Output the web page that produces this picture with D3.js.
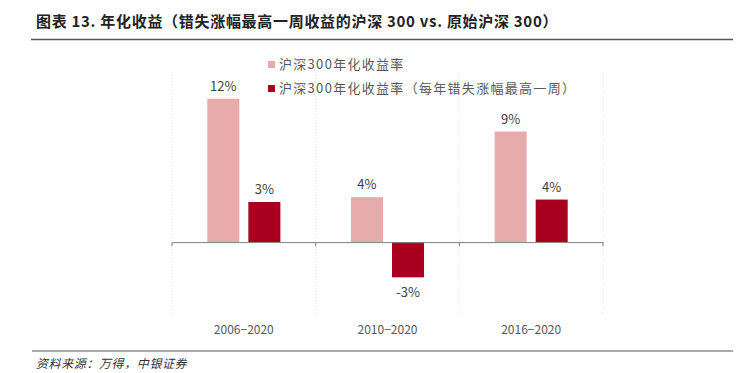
<!DOCTYPE html>
<html>
<head>
<meta charset="utf-8">
<script src="https://cdn.jsdelivr.net/npm/d3@7"></script>
<style>
  body { margin: 0; background: #fff; }
  text { font-family: "Noto Sans CJK SC", "Noto Sans", sans-serif; }
</style>
</head>
<body>
<div id="chart"></div>
<script>
"use strict";

const categories = ["2006-2020", "2010-2020", "2016-2020"];
const seriesNames = ["沪深300年化收益率", "沪深300年化收益率（每年错失涨幅最高一周）"];
const baseReturns = [11.8, 3.7, 9.1];
const missedReturns = [3.3, -2.9, 3.5];
const colors = ["#E8ABAB", "#A8001E"];

const width = 747;
const height = 373;

const svg = d3.select("#chart")
  .append("svg")
  .attr("width", width)
  .attr("height", height)
;

// title + rule
svg.append("text")
  .attr("x", 36)
  .attr("y", 27)
  .attr("font-size", 15)
  .attr("font-weight", "bold")
  .attr("letter-spacing", 0.7)
  .attr("fill", "#222")
  .text("图表 13. 年化收益（错失涨幅最高一周收益的沪深 300 vs. 原始沪深 300）")
;
svg.append("line")
  .attr("x1", 31).attr("x2", 733)
  .attr("y1", 39.5).attr("y2", 39.5)
  .attr("stroke", "#555").attr("stroke-width", 1.5)
;

const x0 = d3.scaleBand()
  .domain(categories)
  .range([172, 603])
;
const x1 = d3.scaleBand()
  .domain(seriesNames)
  .range([0, x0.bandwidth()])
  .paddingInner(0.22)
  .paddingOuter(0.86)
;
const y = d3.scaleLinear()
  .domain([-6, 14])
  .range([315, 72])
;

// dotted separators
svg.append("g")
  .selectAll("line")
  .data(categories.concat(["end"]))
  .enter()
  .append("line")
  .attr("x1", (d, i) => 172 + i * x0.bandwidth())
  .attr("x2", (d, i) => 172 + i * x0.bandwidth())
  .attr("y1", y(14))
  .attr("y2", y(-6))
  .attr("stroke", "#e2e2e2")
  .attr("stroke-dasharray", "1,2")
;

const rows = categories.map((c, i) => ({ cat: c, values: [baseReturns[i], missedReturns[i]] }));

const groups = svg.append("g")
  .selectAll("g")
  .data(rows)
  .enter()
  .append("g")
  .attr("transform", d => `translate(${x0(d.cat)},0)`)
;

groups.selectAll("rect")
  .data(d => d.values.map((v, j) => ({ name: seriesNames[j], v: v, j: j })))
  .enter()
  .append("rect")
  .attr("x", d => x1(d.name))
  .attr("width", x1.bandwidth())
  .attr("y", d => y(Math.max(0, d.v)))
  .attr("height", d => Math.abs(y(d.v) - y(0)))
  .attr("fill", d => colors[d.j])
;

groups.selectAll("text")
  .data(d => d.values.map((v, j) => ({ name: seriesNames[j], v: v })))
  .enter()
  .append("text")
  .attr("x", d => x1(d.name) + x1.bandwidth() / 2)
  .attr("y", d => d.v >= 0 ? y(d.v) - 8 : y(d.v) + 20)
  .attr("text-anchor", "middle")
  .attr("font-size", 13)
  .attr("fill", "#404040")
  .text(d => Math.round(d.v) + "%")
;

// zero axis
const xAxis = d3.axisBottom(x0)
  .tickValues([])
  .tickSizeOuter(0)
;
svg.append("g")
  .attr("transform", `translate(0, ${y(0)})`)
  .call(xAxis)
  .call(g => g.select(".domain").attr("stroke", "#808080"))
;
svg.append("g")
  .selectAll("line")
  .data(categories.concat(["end"]))
  .enter()
  .append("line")
  .attr("x1", (d, i) => 172 + i * x0.bandwidth())
  .attr("x2", (d, i) => 172 + i * x0.bandwidth())
  .attr("y1", y(0))
  .attr("y2", y(0) + 4)
  .attr("stroke", "#808080")
;

// category labels
svg.append("g")
  .selectAll("text")
  .data(categories)
  .enter()
  .append("text")
  .attr("x", d => x0(d) + x0.bandwidth() / 2)
  .attr("y", 334)
  .attr("text-anchor", "middle")
  .attr("font-size", 12)
  .attr("fill", "#595959")
  .text(d => d.replace("-", "−"))
;

// legend
const legend = svg.append("g")
  .selectAll("g")
  .data(seriesNames)
  .enter()
  .append("g")
  .attr("transform", (d, i) => `translate(268, ${61 + i * 24})`)
;
legend.append("rect")
  .attr("width", 7)
  .attr("height", 7)
  .attr("fill", (d, i) => colors[i])
;
legend.append("text")
  .attr("x", 11)
  .attr("y", 8)
  .attr("font-size", 13)
  .attr("letter-spacing", 1.3)
  .attr("fill", "#595959")
  .text(d => d)
;

// footer
svg.append("line")
  .attr("x1", 32).attr("x2", 733)
  .attr("y1", 351).attr("y2", 351)
  .attr("stroke", "#555").attr("stroke-width", 1.2)
;
svg.append("text")
  .attr("x", 36)
  .attr("y", 368)
  .attr("font-size", 12)
  .attr("font-style", "italic")
  .attr("letter-spacing", 0.6)
  .attr("fill", "#333")
  .text("资料来源：万得，中银证券")
;
</script>
</body>
</html>
